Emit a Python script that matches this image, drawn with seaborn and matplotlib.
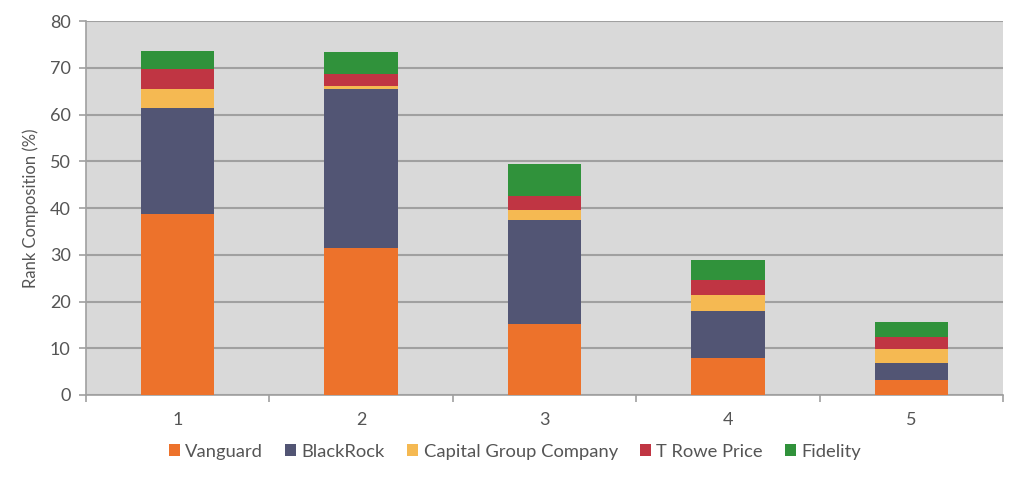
import numpy as np
import pandas as pd
import seaborn as sns
import matplotlib
matplotlib.use("Agg")
import matplotlib.pyplot as plt
from matplotlib.patches import Patch

# datos
ranks = ["1", "2", "3", "4", "5"]
firms = ["Vanguard", "BlackRock", "Capital Group Company", "T Rowe Price", "Fidelity"]
vanguard = [38.7, 31.4, 15.1, 8.0, 3.1]
blackrock = [22.6, 34.0, 22.4, 9.9, 3.8]
capital = [4.2, 0.8, 2.1, 3.5, 2.9]
trowe = [4.2, 2.5, 2.9, 3.2, 2.7]
fidelity = [4.0, 4.6, 7.0, 4.3, 3.2]
colores = ["#ED722B", "#525574", "#F5B952", "#C03543", "#30923B"]

sns.set_theme(style="white")
plt.rcParams["font.family"] = ["Lato", "DejaVu Sans"]
gris_texto = "#555555"

df = pd.DataFrame({"rank": ranks, "Vanguard": vanguard, "BlackRock": blackrock,
                   "Capital Group Company": capital, "T Rowe Price": trowe,
                   "Fidelity": fidelity})
acum = df[firms].cumsum(axis=1)
acum["rank"] = df["rank"]

fig = plt.figure(figsize=(10.24, 4.79), dpi=100)
ax = fig.add_axes([0.084, 0.1754, 0.8955, 0.7806])
ax.set_facecolor("#D9D9D9")

# se dibuja de la serie mas alta a la mas baja para apilar
for firm, col in reversed(list(zip(firms, colores))):
    sns.barplot(data=acum, x="rank", y=firm, color=col, width=0.4,
                saturation=1, ax=ax, zorder=3, linewidth=0, edgecolor="none")

ax.set_ylim(0, 80)
ax.set_xlim(-0.5, 4.5)
ax.set_yticks(np.arange(0, 81, 10))
ax.yaxis.grid(True, color="#A0A0A0", linewidth=1.5, zorder=0)
ax.set_axisbelow(True)

for s in ["top", "right"]:
    ax.spines[s].set_visible(False)
for s in ["left", "bottom"]:
    ax.spines[s].set_color("#A0A0A0")
    ax.spines[s].set_linewidth(1.2)

ax.set_xticks(np.arange(-0.5, 5, 1), minor=True)
ax.tick_params(axis="x", which="major", length=0, pad=12, labelsize=13, labelcolor=gris_texto)
ax.tick_params(axis="x", which="minor", length=5, color="#A0A0A0", width=1.2, direction="out", bottom=True)
ax.tick_params(axis="y", length=5, color="#A0A0A0", width=1.2, direction="out", left=True,
               labelsize=13, labelcolor=gris_texto, pad=6)

ax.set_xlabel("")
ax.set_ylabel("Rank Composition (%)", fontsize=12, color=gris_texto, labelpad=8)

handles = [Patch(facecolor=c, edgecolor="none") for c in colores]
fig.legend(handles, firms, loc="center", bbox_to_anchor=(0.503, 0.057), ncol=5,
           frameon=False, fontsize=13.2, labelcolor=gris_texto, handlelength=0.6,
           handleheight=0.6, handletextpad=0.3, columnspacing=1.2)

fig.savefig("out.png", dpi=100)
